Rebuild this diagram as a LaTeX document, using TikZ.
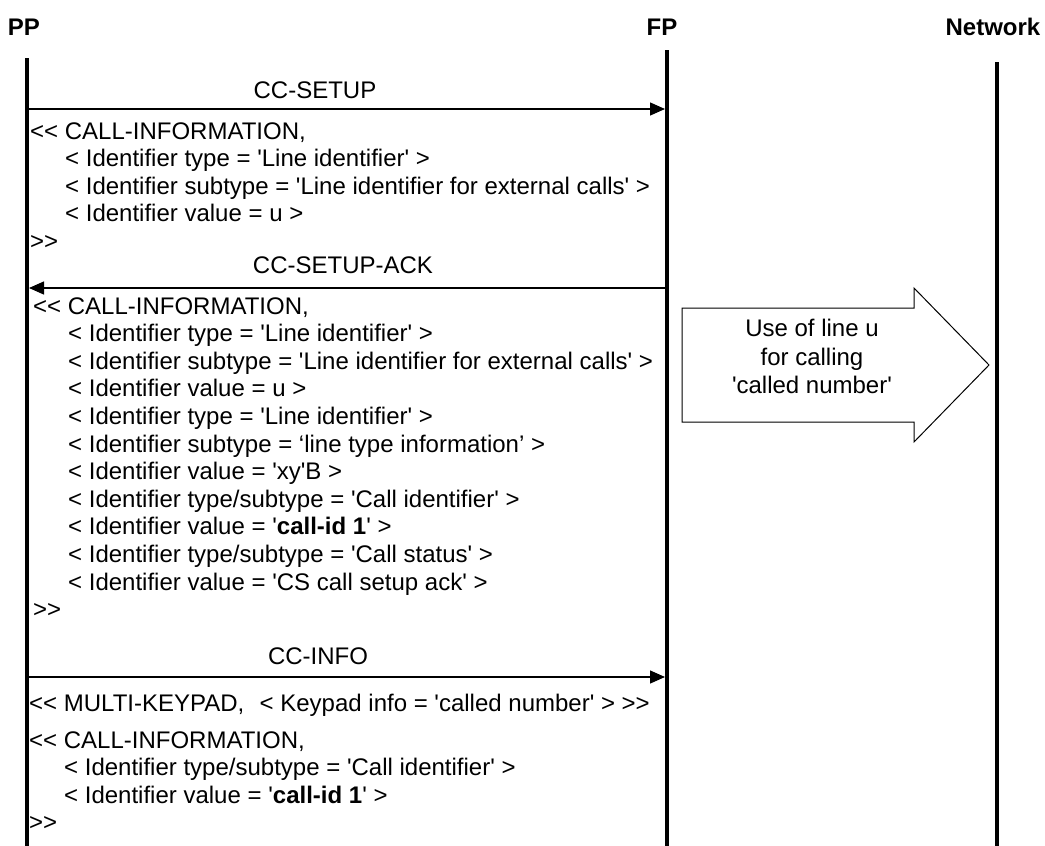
\documentclass[tikz,border=0pt]{standalone}
\usepackage{fontspec}
\newfontfamily\arial{Liberation Sans}
\usetikzlibrary{arrows.meta}
\begin{document}
\begin{tikzpicture}[x=1pt,y=-1pt,
  txt/.style={font=\arial\fontsize{24}{27.6}\selectfont, inner sep=0pt, anchor=base west},
  lbl/.style={font=\arial\fontsize{24}{27.6}\selectfont, inner sep=0pt, anchor=base},
  ttl/.style={font=\arial\bfseries\fontsize{24}{27.6}\selectfont, inner sep=0pt, anchor=base},
  life/.style={line width=3.6pt},
  msg/.style={line width=1.3pt, -{Triangle[length=15pt,width=13pt]}},
  blockarrow/.style={draw, line width=1pt, fill=white}]
\useasboundingbox (0,0) rectangle (1045,846);
% titles
\node[ttl] (PP) at (24,35) {PP};
\node[ttl] (FP) at (662,35) {FP};
\node[ttl] (NW) at (993,35) {Network};
% lifelines
\coordinate (ppTop) at (27,58);  \coordinate (ppBot) at (27,846);
\coordinate (fpTop) at (667,50); \coordinate (fpBot) at (667,846);
\coordinate (nwTop) at (997,62); \coordinate (nwBot) at (997,846);
\draw[life] (ppTop) -- (ppBot);
\draw[life] (fpTop) -- (fpBot);
\draw[life] (nwTop) -- (nwBot);
% message 1
\coordinate (m1s) at (29,109); \coordinate (m1e) at (665,109);
\draw[msg] (m1s) -- (m1e);
\node[lbl] (m1l) at (315,98) {CC-SETUP};
\node[txt] (b1a) at (30,139) {<< CALL-INFORMATION,};
\node[txt] (b1b) at (65,166.6) {< Identifier type = 'Line identifier' >};
\node[txt] (b1c) at (65,194.2) {< Identifier subtype = 'Line identifier for external calls' >};
\node[txt] (b1d) at (65,221.8) {< Identifier value = u >};
\node[txt] (b1e) at (30,249.4) {>>};
% message 2
\coordinate (m2s) at (665,288); \coordinate (m2e) at (29,288);
\draw[msg] (m2s) -- (m2e);
\node[lbl] (m2l) at (343,273) {CC-SETUP-ACK};
\node[txt] (b2a) at (33,314) {<< CALL-INFORMATION,};
\node[txt] (b2b) at (68,341.6) {< Identifier type = 'Line identifier' >};
\node[txt] (b2c) at (68,369.2) {< Identifier subtype = 'Line identifier for external calls' >};
\node[txt] (b2d) at (68,396.8) {< Identifier value = u >};
\node[txt] (b2e) at (68,424.4) {< Identifier type = 'Line identifier' >};
\node[txt] (b2f) at (68,452.0) {< Identifier subtype = ‘line type information’ >};
\node[txt] (b2g) at (68,479.6) {< Identifier value = 'xy'B >};
\node[txt] (b2h) at (68,507.2) {< Identifier type/subtype = 'Call identifier' >};
\node[txt] (b2i) at (68,534.8) {< Identifier value = '{\bfseries call-id 1}' >};
\node[txt] (b2j) at (68,562.4) {< Identifier type/subtype = 'Call status' >};
\node[txt] (b2k) at (68,590.0) {< Identifier value = 'CS call setup ack' >};
\node[txt] (b2l) at (33,617.6) {>>};
% block arrow
\draw[blockarrow] (682,308) -- (914,308) -- (914,288) -- (989,365) -- (914,442) -- (914,422) -- (682,422) -- cycle;
\node[lbl] (u1) at (812,336) {Use of line u};
\node[lbl] (u2) at (812,365) {for calling};
\node[lbl] (u3) at (812,393) {'called number'};
% message 3
\coordinate (m3s) at (29,677); \coordinate (m3e) at (665,677);
\draw[msg] (m3s) -- (m3e);
\node[lbl] (m3l) at (318,664) {CC-INFO};
\node[txt] (b3a) at (29,711) {<< MULTI-KEYPAD,};
\node[txt, anchor=base east] (b3b) at (650,711) {< Keypad info = 'called number' > >>};
\node[txt] (b3c) at (29,748) {<< CALL-INFORMATION,};
\node[txt] (b3d) at (64,775.6) {< Identifier type/subtype = 'Call identifier' >};
\node[txt] (b3e) at (64,803.2) {< Identifier value = '{\bfseries call-id 1}' >};
\node[txt] (b3f) at (29,830.8) {>>};
\end{tikzpicture}
\end{document}
